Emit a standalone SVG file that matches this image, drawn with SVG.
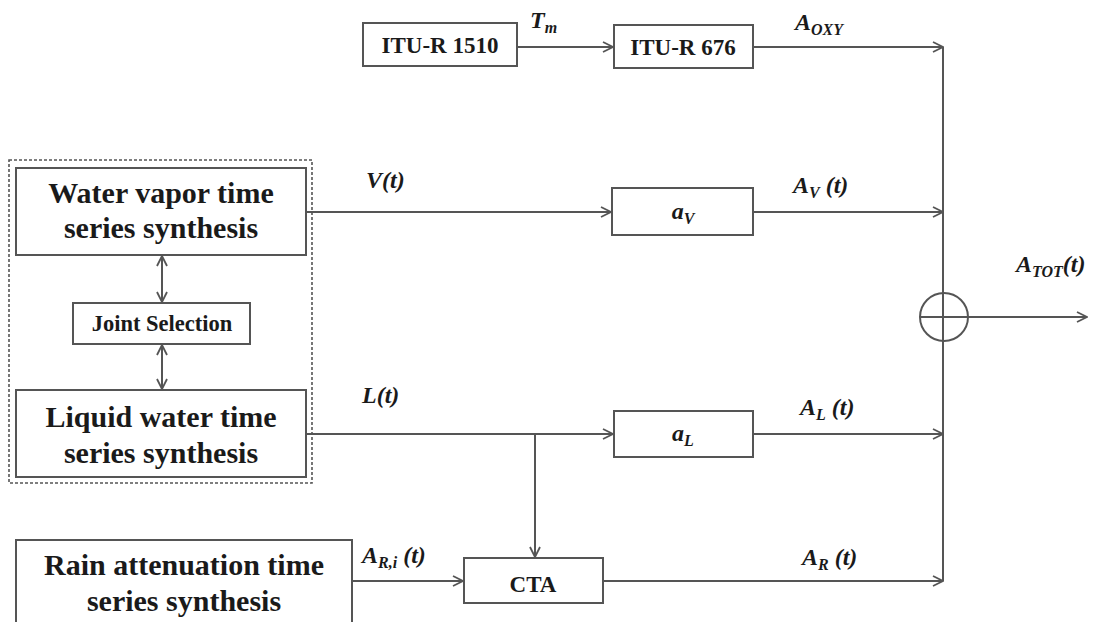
<svg xmlns="http://www.w3.org/2000/svg" width="1103" height="622" viewBox="0 0 1103 622">
  <style>
    .box { fill: #fff; stroke: #555; stroke-width: 2; }
    .big { font-family: "Liberation Serif", serif; font-weight: bold; font-size: 30px; fill: #1a1a1a; text-anchor: middle; }
    .mid { font-family: "Liberation Serif", serif; font-weight: bold; font-size: 23px; fill: #1a1a1a; text-anchor: middle; }
    .small { font-family: "Liberation Serif", serif; font-weight: bold; font-size: 22.5px; fill: #1a1a1a; text-anchor: middle; }
    .lbl { font-family: "Liberation Serif", serif; font-weight: bold; font-style: italic; font-size: 24px; fill: #1a1a1a; }
    .sub { font-size: 16px; }
    .wire { fill: none; stroke: #555; stroke-width: 2; }
  </style>
  <defs>
    <marker id="arr" viewBox="0 0 12 12" refX="11" refY="6" markerWidth="12" markerHeight="12" markerUnits="userSpaceOnUse" orient="auto-start-reverse">
      <path d="M1,1 L11,6 L1,11" fill="none" stroke="#555" stroke-width="1.8"/>
    </marker>
  </defs>

  <rect width="1103" height="622" fill="#fff"/>

  <!-- dashed frame around the coupled vapour / liquid generators -->
  <rect id="frame" x="9" y="160" width="303" height="323" fill="none" stroke="#555" stroke-width="1.6" stroke-dasharray="3 2"/>

  <g id="itu1510">
    <rect class="box" x="363" y="23" width="154" height="43"/>
    <text class="mid" x="440" y="53">ITU-R 1510</text>
  </g>
  <g id="itu676">
    <rect class="box" x="614" y="25" width="139" height="43"/>
    <text class="mid" x="683" y="55">ITU-R 676</text>
  </g>
  <g id="vapor">
    <rect class="box" x="16" y="168" width="290" height="87"/>
    <text class="big" x="161" y="203">Water vapor time</text>
    <text class="big" x="161" y="238">series synthesis</text>
  </g>
  <g id="joint">
    <rect class="box" x="73" y="303" width="177" height="41"/>
    <text class="small" x="162" y="331">Joint Selection</text>
  </g>
  <g id="liquid">
    <rect class="box" x="16" y="390" width="290" height="87"/>
    <text class="big" x="161" y="427">Liquid water time</text>
    <text class="big" x="161" y="463">series synthesis</text>
  </g>
  <g id="rain">
    <rect class="box" x="16" y="540" width="336" height="90"/>
    <text class="big" x="184" y="575">Rain attenuation time</text>
    <text class="big" x="184" y="611">series synthesis</text>
  </g>
  <g id="aV">
    <rect class="box" x="612" y="188" width="141" height="47"/>
    <text class="lbl" x="683" y="219" text-anchor="middle" font-size="27">a<tspan class="sub" dy="5">V</tspan></text>
  </g>
  <g id="aL">
    <rect class="box" x="614" y="411" width="139" height="46"/>
    <text class="lbl" x="683" y="441" text-anchor="middle" font-size="27">a<tspan class="sub" dy="5">L</tspan></text>
  </g>
  <g id="cta">
    <rect class="box" x="464" y="558" width="139" height="45"/>
    <text class="mid" x="533" y="592" font-size="24">CTA</text>
  </g>
  <g id="sum">
    <circle cx="944" cy="317" r="24" fill="none" stroke="#555" stroke-width="2"/>
  </g>

  <g id="connectors">
    <line class="wire" x1="517" y1="47" x2="613" y2="47" marker-end="url(#arr)"/>
    <line class="wire" x1="753" y1="47" x2="943" y2="47" marker-end="url(#arr)"/>
    <line class="wire" x1="306" y1="212" x2="611" y2="212" marker-end="url(#arr)"/>
    <line class="wire" x1="753" y1="212" x2="943" y2="212" marker-end="url(#arr)"/>
    <line class="wire" x1="306" y1="434" x2="613" y2="434" marker-end="url(#arr)"/>
    <line class="wire" x1="753" y1="434" x2="943" y2="434" marker-end="url(#arr)"/>
    <line class="wire" x1="535" y1="434" x2="535" y2="557" marker-end="url(#arr)"/>
    <line class="wire" x1="352" y1="581" x2="463" y2="581" marker-end="url(#arr)"/>
    <line class="wire" x1="603" y1="581" x2="943" y2="581" marker-end="url(#arr)"/>
    <line class="wire" x1="162" y1="256" x2="162" y2="302" marker-start="url(#arr)" marker-end="url(#arr)"/>
    <line class="wire" x1="162" y1="345" x2="162" y2="389" marker-start="url(#arr)" marker-end="url(#arr)"/>
    <line class="wire" x1="943" y1="47" x2="943" y2="581"/>
    <line class="wire" x1="920" y1="317" x2="1087" y2="317" marker-end="url(#arr)"/>
  </g>

  <g id="labels">
    <text class="lbl" x="530" y="28">T<tspan class="sub" dy="5">m</tspan></text>
    <text class="lbl" x="795" y="30">A<tspan class="sub" dy="5">OXY</tspan></text>
    <text class="lbl" x="366" y="188">V(t)</text>
    <text class="lbl" x="793" y="193">A<tspan class="sub" dy="5">V</tspan><tspan dy="-5"> (t)</tspan></text>
    <text class="lbl" x="362" y="403">L(t)</text>
    <text class="lbl" x="800" y="415">A<tspan class="sub" dy="5">L</tspan><tspan dy="-5"> (t)</tspan></text>
    <text class="lbl" x="362" y="563">A<tspan class="sub" dy="5">R,i</tspan><tspan dy="-5"> (t)</tspan></text>
    <text class="lbl" x="802" y="565">A<tspan class="sub" dy="5">R</tspan><tspan dy="-5"> (t)</tspan></text>
    <text class="lbl" x="1016" y="272">A<tspan class="sub" dy="5">TOT</tspan><tspan dy="-5">(t)</tspan></text>
  </g>
</svg>
